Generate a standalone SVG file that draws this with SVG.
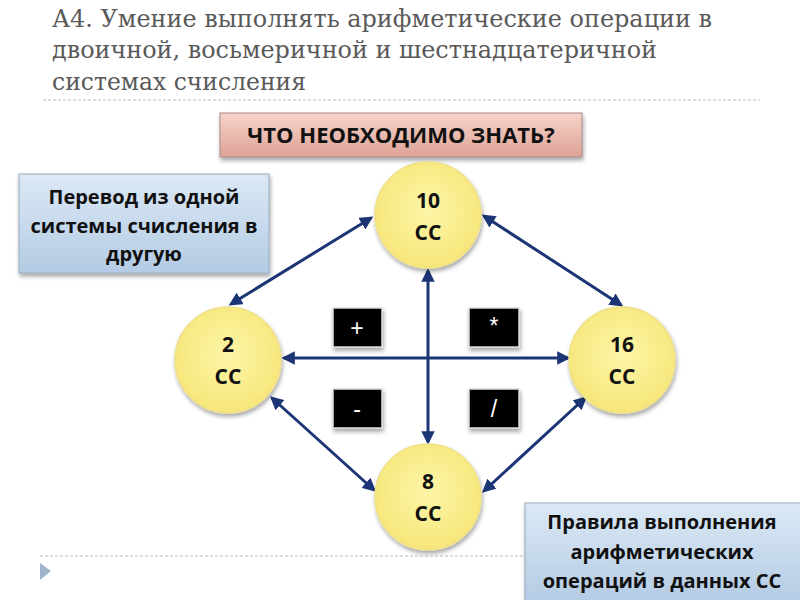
<svg xmlns="http://www.w3.org/2000/svg" width="800" height="600" viewBox="0 0 800 600">
<defs>
<linearGradient id="pink" x1="0" y1="0" x2="0" y2="1"><stop offset="0" stop-color="#f6d3c9"/><stop offset="1" stop-color="#dea396"/></linearGradient>
<linearGradient id="blue" x1="0" y1="0" x2="0" y2="1"><stop offset="0" stop-color="#dce9f5"/><stop offset="1" stop-color="#b3cbe4"/></linearGradient>
<radialGradient id="yel" cx="0.5" cy="0.45" r="0.55"><stop offset="0" stop-color="#fdf6a8"/><stop offset="1" stop-color="#f6e67a"/></radialGradient>
<filter id="sh" x="-10%" y="-10%" width="130%" height="140%"><feDropShadow dx="1" dy="3" stdDeviation="2" flood-color="#000" flood-opacity="0.35"/></filter>
<marker id="ah" viewBox="0 0 10 10" refX="8" refY="5" markerWidth="4.5" markerHeight="4.5" orient="auto-start-reverse"><path d="M0,0 L10,5 L0,10 z" fill="#1c3575"/></marker>
</defs>
<style>
.title{font-family:"DejaVu Serif","Liberation Serif",serif;font-size:25px;fill:#595959}
.b{font-family:"Open Sans","Liberation Sans",sans-serif;font-weight:bold;fill:#111;text-anchor:middle}
.circ{fill:url(#yel);stroke:#efe08a;stroke-width:1.5;filter:url(#sh)}
.conn line{stroke:#1c3575;stroke-width:3;marker-start:url(#ah);marker-end:url(#ah)}
.op rect{fill:#000;stroke:#ddd;stroke-width:1.5;filter:url(#sh)}
.op text{font-family:"Liberation Sans",sans-serif;font-size:23px;fill:#fff;text-anchor:middle}
.dot{stroke:#bbb;stroke-width:1;stroke-dasharray:3,2}
</style>
<rect width="800" height="600" fill="#fff"/>
<g id="title">
<text class="title" x="52" y="27" textLength="660" lengthAdjust="spacingAndGlyphs">А4. Умение выполнять арифметические операции в</text>
<text class="title" x="52" y="58" textLength="605" lengthAdjust="spacingAndGlyphs">двоичной, восьмеричной и шестнадцатеричной</text>
<text class="title" x="52" y="90" textLength="254" lengthAdjust="spacingAndGlyphs">системах счисления</text>
<line class="dot" x1="43" y1="100" x2="760" y2="100"/>
</g>
<line class="dot" x1="40" y1="556" x2="525" y2="556"/>
<path d="M40,563 L51,571 L40,580 z" fill="#9fb4cb"/>
<g id="header">
<rect x="220" y="113" width="362" height="44" fill="url(#pink)" stroke="#a88" stroke-width="1" filter="url(#sh)"/>
<text class="b" x="401" y="143" font-size="22">ЧТО НЕОБХОДИМО ЗНАТЬ?</text>
</g>
<g id="conversion">
<rect x="19" y="174" width="250" height="99" fill="url(#blue)" stroke="#9ab" stroke-width="1" filter="url(#sh)"/>
<text class="b" x="144" y="204" font-size="20">Перевод из одной</text>
<text class="b" x="144" y="233" font-size="20">системы счисления в</text>
<text class="b" x="144" y="261" font-size="20">другую</text>
</g>
<g id="rules">
<rect x="525" y="503" width="280" height="100" fill="url(#blue)" stroke="#9ab" stroke-width="1" filter="url(#sh)"/>
<text class="b" x="662" y="529" font-size="20">Правила выполнения</text>
<text class="b" x="662" y="559" font-size="20">арифметических</text>
<text class="b" x="662" y="588" font-size="20">операций в данных СС</text>
</g>
<g class="conn" id="connectors">
<line x1="371" y1="218" x2="231" y2="304"/>
<line x1="484" y1="216" x2="621" y2="305"/>
<line x1="284" y1="358" x2="568" y2="358"/>
<line x1="428" y1="271" x2="428" y2="442"/>
<line x1="272" y1="398" x2="374" y2="490"/>
<line x1="585" y1="398" x2="484" y2="491"/>
</g>
<g id="n10"><circle class="circ" cx="428" cy="215" r="53"/><text class="b" x="428" y="208" font-size="21">10</text><text class="b" x="428" y="240" font-size="21">СС</text></g>
<g id="n2"><circle class="circ" cx="228" cy="360" r="53"/><text class="b" x="228" y="352" font-size="21">2</text><text class="b" x="228" y="384" font-size="21">СС</text></g>
<g id="n16"><circle class="circ" cx="622" cy="360" r="53"/><text class="b" x="622" y="352" font-size="21">16</text><text class="b" x="622" y="384" font-size="21">СС</text></g>
<g id="n8"><circle class="circ" cx="428" cy="497" r="53"/><text class="b" x="428" y="489" font-size="21">8</text><text class="b" x="428" y="521" font-size="21">СС</text></g>
<g class="op" id="op-plus"><rect x="333" y="308" width="49" height="39"/><text x="357" y="336">+</text></g>
<g class="op" id="op-mul"><rect x="469" y="308" width="50" height="39"/><text x="494" y="334">*</text></g>
<g class="op" id="op-minus"><rect x="333" y="389" width="49" height="39"/><text x="357" y="417">-</text></g>
<g class="op" id="op-div"><rect x="469" y="389" width="50" height="39"/><text x="494" y="417">/</text></g>
</svg>
